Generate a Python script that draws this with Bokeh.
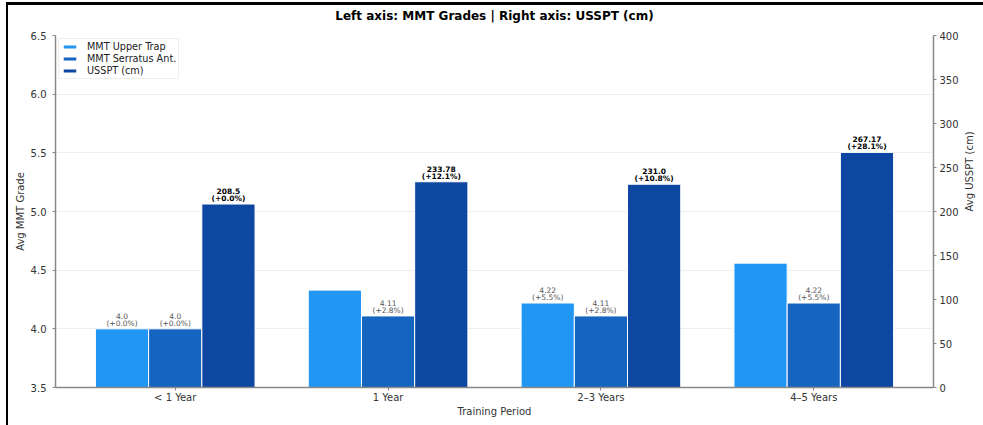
import math
from bokeh.plotting import figure
from bokeh.models import (FactorRange, Range1d, LinearAxis, FixedTicker, ColumnDataSource,
                          Legend, LegendItem, NumeralTickFormatter)
from bokeh.transform import dodge
from bokeh.layouts import column
from bokeh.embed import file_html
from bokeh.resources import INLINE
from bokeh.core.properties import value

# ---- data ----
periods = ["< 1 Year", "1 Year", "2\u20133 Years", "4\u20135 Years"]
mmt_upper_trap = [4.0, 4.33, 4.22, 4.56]
mmt_serratus = [4.0, 4.11, 4.11, 4.22]
ussp_t = [208.5, 233.78, 231.0, 267.17]
upper_trap_val_labels = ["4.0", "", "4.22", ""]
upper_trap_pct_labels = ["(+0.0%)", "", "(+5.5%)", ""]
serratus_val_labels = ["4.0", "4.11", "4.11", "4.22"]
serratus_pct_labels = ["(+0.0%)", "(+2.8%)", "(+2.8%)", "(+5.5%)"]
ussp_t_val_labels = ["208.5", "233.78", "231.0", "267.17"]
ussp_t_pct_labels = ["(+0.0%)", "(+12.1%)", "(+10.8%)", "(+28.1%)"]
left_ticks = [3.5, 4.0, 4.5, 5.0, 5.5, 6.0, 6.5]
right_ticks = [0, 50, 100, 150, 200, 250, 300, 350, 400]

C_UT = "#2196F3"
C_SA = "#1565C0"
C_US = "#0D47A1"
FONT = "DejaVu Sans"

src = ColumnDataSource(dict(
    period=periods, ut=mmt_upper_trap, sa=mmt_serratus, us=ussp_t,
    ut_v=upper_trap_val_labels, ut_p=upper_trap_pct_labels,
    sa_v=serratus_val_labels, sa_p=serratus_pct_labels,
    us_v=ussp_t_val_labels, us_p=ussp_t_pct_labels,
))

p = figure(width=975, height=428, output_backend="svg", toolbar_location=None,
           x_range=FactorRange(*periods, range_padding=0.03125, range_padding_units="percent"),
           y_range=Range1d(3.5, 6.5),
           min_border_left=47, min_border_right=43, min_border_top=38, min_border_bottom=38)
p.extra_y_ranges = {"right": Range1d(0, 400)}
p.outline_line_color = None
p.background_fill_color = "white"
p.border_fill_alpha = 0
p.styles = {"margin-top": "-8px"}

p.title.text = "Left axis: MMT Grades | Right axis: USSPT (cm)"
p.title.align = "center"
p.title.vertical_align = "top"
p.title.text_font = FONT
p.title.text_font_size = "12px"
p.title.text_font_style = "bold"
p.title.text_color = "black"
p.title.offset = 0
p.title.standoff = 22

W = 0.25
r_ut = p.vbar(x=dodge("period", -0.25, range=p.x_range), top="ut", bottom=3.5, width=W,
              source=src, fill_color=C_UT, line_color="white", line_width=1)
r_sa = p.vbar(x=dodge("period", 0.0, range=p.x_range), top="sa", bottom=3.5, width=W,
              source=src, fill_color=C_SA, line_color="white", line_width=1)
r_us = p.vbar(x=dodge("period", 0.25, range=p.x_range), top="us", bottom=0, width=W,
              source=src, fill_color=C_US, line_color="white", line_width=1,
              y_range_name="right")

def labels(off, top, vcol, pcol, color, style, rng="default"):
    for col, yoff in ((pcol, -1), (vcol, -10)):
        p.text(x=dodge("period", off, range=p.x_range), y=top, text=col, source=src,
               text_font=value(FONT), text_font_size="7.5px", text_font_style=style,
               text_color=color, text_align="center", text_baseline="bottom",
               y_offset=yoff, y_range_name=rng)

labels(-0.25, "ut", "ut_v", "ut_p", "#555555", "normal")
labels(0.0, "sa", "sa_v", "sa_p", "#555555", "normal")
labels(0.25, "us", "us_v", "us_p", "black", "bold", "right")

# axes
AX_COL = "#888888"
def style_axis(ax):
    ax.axis_line_color = AX_COL
    ax.axis_line_width = 1.5
    ax.major_tick_line_color = AX_COL
    ax.major_tick_out = 3
    ax.major_tick_in = 0
    ax.minor_tick_line_color = None
    ax.major_label_text_font = FONT
    ax.major_label_text_font_size = "10px"
    ax.major_label_text_color = "#333333"
    ax.axis_label_text_font = FONT
    ax.axis_label_text_font_size = "10px"
    ax.axis_label_text_font_style = "normal"
    ax.axis_label_text_color = "#333333"
    ax.major_label_standoff = 3
    ax.axis_label_standoff = 2

yl = p.yaxis[0]
yl.ticker = FixedTicker(ticks=left_ticks)
yl.formatter = NumeralTickFormatter(format="0.0")
yl.axis_label = "Avg MMT Grade"
style_axis(yl)
yl.major_label_standoff = 6

yr = LinearAxis(y_range_name="right", ticker=FixedTicker(ticks=right_ticks),
                axis_label="Avg USSPT (cm)")
style_axis(yr)
yr.major_label_standoff = 3
yr.axis_label_standoff = 8
if "axis_label_orientation" in yr.properties():
    yr.axis_label_orientation = math.pi / 2
p.add_layout(yr, "right")

xa = p.xaxis[0]
xa.axis_label = "Training Period"
style_axis(xa)
xa.major_label_standoff = 1
xa.axis_label_standoff = 0

p.xgrid.grid_line_color = None
p.ygrid.grid_line_color = "#eeeeee"
p.ygrid.grid_line_width = 1
p.ygrid.ticker = FixedTicker(ticks=left_ticks)

legend = Legend(items=[LegendItem(label="MMT Upper Trap", renderers=[r_ut]),
                       LegendItem(label="MMT Serratus Ant.", renderers=[r_sa]),
                       LegendItem(label="USSPT (cm)", renderers=[r_us])],
                location="top_left")
legend.margin = 3
legend.padding = 2
legend.spacing = 1
legend.label_text_font = FONT
legend.label_text_font_size = "9.7px"
legend.label_text_color = "#222222"
legend.label_height = 11
legend.glyph_height = 5
legend.glyph_width = 17
legend.label_standoff = 9
legend.border_line_color = "#dddddd"
legend.background_fill_alpha = 0.9
p.add_layout(legend)

layout = column(p, styles={"border-top": "3px solid black", "border-left": "2px solid black",
                           "margin-top": "2px", "margin-left": "6px"})

open("out.html", "w").write(file_html(layout, INLINE))
